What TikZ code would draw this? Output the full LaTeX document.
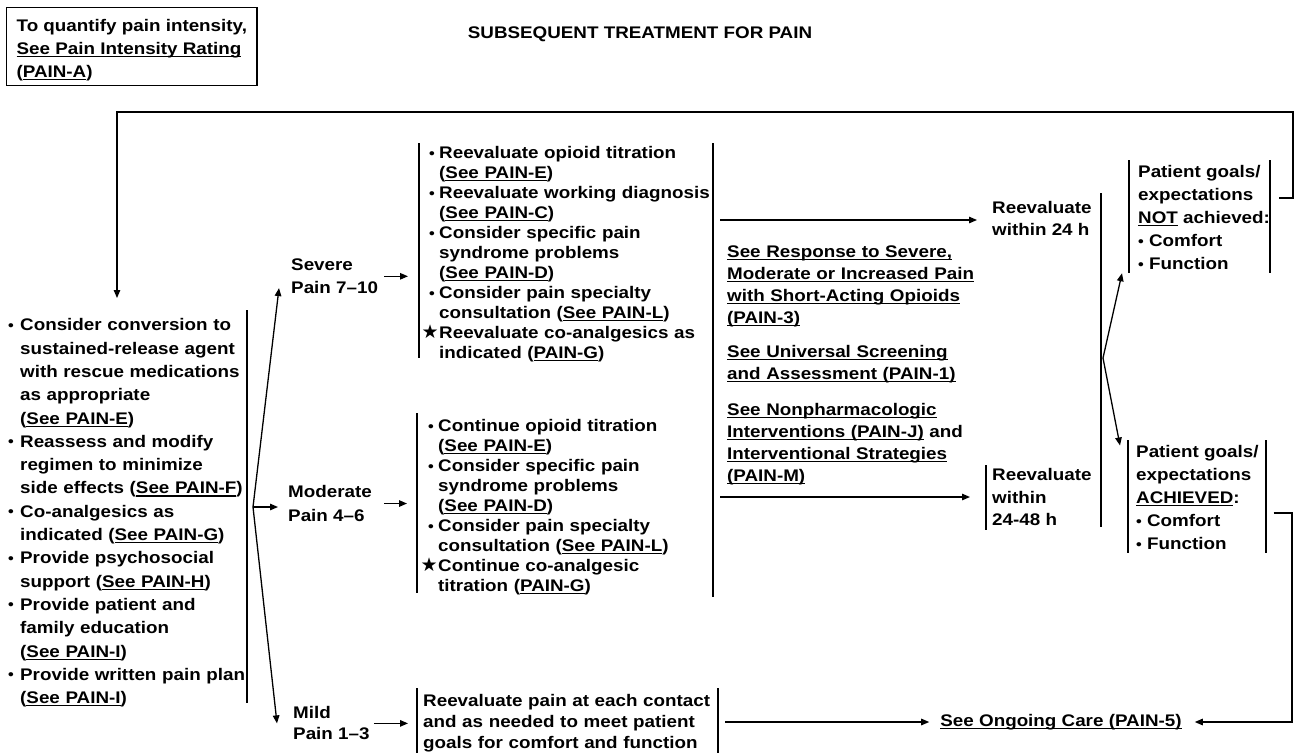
\documentclass[tikz,border=0pt]{standalone}
\usepackage{fontspec}
\setmainfont{Liberation Sans}[FakeStretch=1.12]
\newfontfamily\starfont{DejaVu Sans}
\usetikzlibrary{positioning,arrows.meta}
\newsavebox\undlbox
\newcommand{\undl}[1]{\leavevmode\sbox\undlbox{#1}\rlap{\rule[-2.6pt]{\wd\undlbox}{1.1pt}}\usebox\undlbox}
\newcommand{\dotb}{\raisebox{0.8pt}{\fontsize{14.5}{14.5}\selectfont\textbullet}}
\newcommand{\bitem}[1][10pt]{\noindent\hangindent=#1\hangafter=1\makebox[#1][l]{\dotb}}
\newcommand{\sitem}[1][10pt]{\noindent\hangindent=#1\hangafter=1\makebox[#1][r]{\starfont\fontsize{19}{19}\selectfont ★\hspace{0.5pt}}}

\begin{document}
\begin{tikzpicture}[
      x=1pt, y=-1pt,
      txt/.style={anchor=north west, inner sep=0pt, align=left,
                  font=\fontsize{16.8}{20}\selectfont\bfseries},
      wide/.style={txt, font=\fontsize{16.8}{23.3}\selectfont\bfseries},
      bar/.style={line width=1.3pt},
      arr/.style={line width=1.3pt, -{Triangle[length=8pt, width=6.5pt]}}
    ]
    \useasboundingbox (0,0) rectangle (1296,753);
    \node[wide, draw, line width=1.3pt, inner xsep=10pt, inner ysep=0pt, minimum height=78pt] (rating) at (6,7)
      {\rule{0pt}{19pt}To quantify pain intensity,\\\undl{See Pain Intensity Rating}\\(\undl{PAIN-A})};
    \node[txt, anchor=center] (title) at (640,34) {SUBSEQUENT TREATMENT FOR PAIN};
    \node[wide, text width=260pt] (steps) at (8,318.5) {%
      \bitem[12pt]Consider conversion to\newline sustained-release agent\newline with rescue medications\newline as appropriate\newline (\undl{See PAIN-E})
      \par\bitem[12pt]Reassess and modify\newline regimen to minimize\newline side effects (\undl{See PAIN-F})
      \par\bitem[12pt]Co-analgesics as\newline indicated (\undl{See PAIN-G})
      \par\bitem[12pt]Provide psychosocial\newline support (\undl{See PAIN-H})
      \par\bitem[12pt]Provide patient and\newline family education\newline (\undl{See PAIN-I})
      \par\bitem[12pt]Provide written pain plan\newline (\undl{See PAIN-I})\par};
    \node[wide] (severe) at (291,258.5) {Severe\\Pain 7–10};
    \node[wide] (moderate) at (288,485.5) {Moderate\\Pain 4–6};
    \node[txt, font=\fontsize{16.8}{21}\selectfont\bfseries] (mild) at (293,706.5) {Mild\\Pain 1–3};
    \node[txt, text width=285pt] (sevbox) at (429,146.5) {%
      \bitem Reevaluate opioid titration\newline (\undl{See PAIN-E})
      \par\bitem Reevaluate working diagnosis\newline (\undl{See PAIN-C})
      \par\bitem Consider specific pain\newline syndrome problems\newline (\undl{See PAIN-D})
      \par\bitem Consider pain specialty\newline consultation (\undl{See PAIN-L})
      \par\sitem Reevaluate co-analgesics as\newline indicated (\undl{PAIN-G})\par};
    \node[txt, text width=285pt] (modbox) at (428,419.5) {%
      \bitem Continue opioid titration\newline (\undl{See PAIN-E})
      \par\bitem Consider specific pain\newline syndrome problems\newline (\undl{See PAIN-D})
      \par\bitem Consider pain specialty\newline consultation (\undl{See PAIN-L})
      \par\sitem Continue co-analgesic\newline titration (\undl{PAIN-G})\par};
    \node[txt, text width=300pt, font=\fontsize{16.8}{21}\selectfont\bfseries] (mildbox) at (423,694.5)
      {Reevaluate pain at each contact\\and as needed to meet patient\\goals for comfort and function};
    \node[txt, text width=270pt, font=\fontsize{16.8}{22}\selectfont\bfseries] (refs) at (727,245.5) {%
      \undl{See Response to Severe,}\\\undl{Moderate or Increased Pain}\\\undl{with Short-Acting Opioids}\\\undl{(PAIN-3)}\\[12pt]
      \undl{See Universal Screening}\\\undl{and Assessment (PAIN-1)}\\[14pt]
      \undl{See Nonpharmacologic}\\\undl{Interventions (PAIN-J)} and\\\undl{Interventional Strategies}\\\undl{(PAIN-M)}};
    \node[txt, font=\fontsize{16.8}{22}\selectfont\bfseries] (re24) at (992,201.5) {Reevaluate\\within 24 h};
    \node[txt, font=\fontsize{16.8}{22.5}\selectfont\bfseries] (re48) at (992,468.5) {Reevaluate\\within\\24-48 h};
    \node[wide, font=\fontsize{16.8}{23}\selectfont\bfseries] (notach) at (1138,165.5)
      {Patient goals/\\expectations\\\undl{NOT} achieved:\\\dotb\ Comfort\\\dotb\ Function};
    \node[wide, font=\fontsize{16.8}{23}\selectfont\bfseries] (ach) at (1136,445.5)
      {Patient goals/\\expectations\\\undl{ACHIEVED}:\\\dotb\ Comfort\\\dotb\ Function};
    \node[txt, anchor=center] (ongoing) at (1061,722) {\undl{See Ongoing Care (PAIN-5)}};

    \coordinate (fork) at (253,507);
    \coordinate (split) at (1103,358);
    \coordinate (gtop) at (720,220);
    \coordinate (gbot) at (720,497);
    \coordinate (mildout) at (725,722);
    \coordinate (loopR) at (1293,112);
    \coordinate (loopin) at (117,298);
    \coordinate (rx) at (1292,0);

    \draw[bar] (247,310) -- (247,703);
    \draw[bar] (419,143) -- (419,358);
    \draw[bar] (713,143) -- (713,597);
    \draw[bar] (417,413) -- (417,593);
    \draw[bar] (417,688) -- (417,753);
    \draw[bar] (718,688) -- (718,753);
    \draw[bar] (1101,193) -- (1101,527);
    \draw[bar] (986,465) -- (986,530);
    \draw[bar] (1129,160) -- (1129,273);
    \draw[bar] (1270,160) -- (1270,273);
    \draw[bar] (1128,440) -- (1128,553);
    \draw[bar] (1266,440) -- (1266,553);

    \draw[arr] (fork) -- ([xshift=-12pt,yshift=6pt]severe.south west);
    \draw[arr, shorten >=10pt] (fork) -- (fork -| moderate.west);
    \draw[arr] (fork) -- ([xshift=-16pt]mild.west);
    \draw[arr, shorten <=6pt, shorten >=21pt] (severe.east) -- (severe.east -| sevbox.west);
    \draw[arr, shorten <=12pt, shorten >=21pt] (moderate.east) -- (moderate.east -| modbox.west);
    \draw[arr, shorten <=4pt, shorten >=15pt] (mild.east) -- (mild.east -| mildbox.west);
    \draw[arr, shorten >=15pt] (gtop) -- (gtop -| re24.west);
    \draw[arr, shorten >=22pt] (gbot) -- (gbot -| re48.west);
    \draw[arr] (split) -- ([xshift=-16pt,yshift=-3pt]notach.south west);
    \draw[arr] (split) -- ([xshift=-16pt]ach.north west);
    \draw[arr, shorten >=11pt] (mildout) -- (mildout -| ongoing.west);
    \draw[arr] ([xshift=9pt,yshift=20pt]notach.east) -| (loopR) -| (loopin);
    \draw[arr] ([xshift=15pt,yshift=-15pt]ach.east) -| (rx |- ongoing.east) -- ([xshift=13pt]ongoing.east);
  \end{tikzpicture}
\end{document}
